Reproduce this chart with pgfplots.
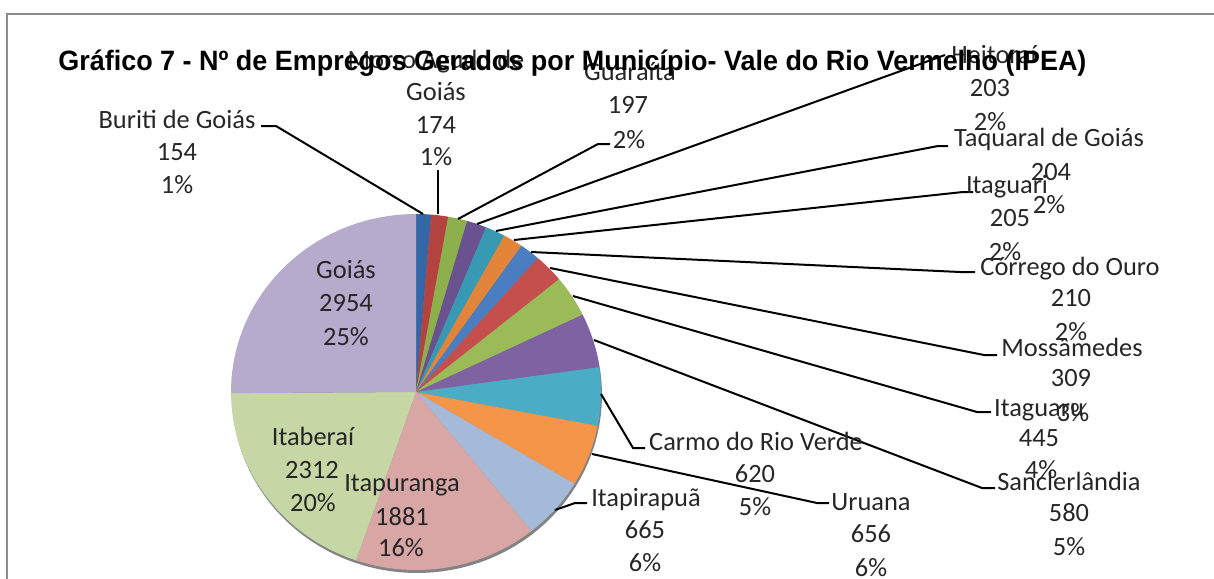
\documentclass[border=0pt]{standalone}
\usepackage{graphicx}
\usepackage{fontspec}
\setmainfont{Carlito}
\newfontfamily\titlefont{Liberation Sans}
\usepackage{pgfplots}
\pgfplotsset{compat=1.18}
\definecolor{c1}{HTML}{3566A6}
\definecolor{c2}{HTML}{B4423F}
\definecolor{c3}{HTML}{8DAF4C}
\definecolor{c4}{HTML}{6A5190}
\definecolor{c5}{HTML}{3899B3}
\definecolor{c6}{HTML}{E2843A}
\definecolor{c7}{HTML}{4A7EC0}
\definecolor{c8}{HTML}{C44F4C}
\definecolor{c9}{HTML}{9ABB58}
\definecolor{c10}{HTML}{7F62A1}
\definecolor{c11}{HTML}{4BACC6}
\definecolor{c12}{HTML}{F5954A}
\definecolor{c13}{HTML}{A5B9D8}
\definecolor{c14}{HTML}{D7A6A5}
\definecolor{c15}{HTML}{C6D6A4}
\definecolor{c16}{HTML}{B6AACD}
\definecolor{framegray}{HTML}{8C8C8C}
\newcommand{\labfont}{\fontsize{13.2}{16}\selectfont}
\newcommand{\lab}[3]{\node[anchor=base,inner sep=0pt,yshift=-4.3pt,font=\labfont,text=black!85] at (axis cs:#1,#2) {#3};}
% slice: start (cumulative count), end (cumulative count), colour; total = 11769
\newcommand{\slice}[3]{\addplot[fill=#3, draw=none, domain=#1:#2, samples=40] ({416+185*sin(360*x/11769)}, {392-178*cos(360*x/11769)}) -- (axis cs:416,392) -- cycle;}
\begin{document}
\begin{tikzpicture}
\begin{axis}[width=607pt, height=289pt, scale only axis,
  xmin=0, xmax=1214, ymin=0, ymax=578, y dir=reverse, hide axis, clip=true]
% frame
\addplot[draw=framegray, line width=1.2pt] coordinates {(7,620) (7,14) (1260,14)};
% shadow
\addplot[fill=black!65, draw=none, domain=0:360, samples=120, opacity=0.75] ({417+185*sin(x)}, {395-178*cos(x)}) -- cycle;
% slices (values: 154,174,197,203,204,205,210,309,445,580,620,656,665,1881,2312,2954)
\slice{0}{154}{c1}
\slice{154}{328}{c2}
\slice{328}{525}{c3}
\slice{525}{728}{c4}
\slice{728}{932}{c5}
\slice{932}{1137}{c6}
\slice{1137}{1347}{c7}
\slice{1347}{1656}{c8}
\slice{1656}{2101}{c9}
\slice{2101}{2681}{c10}
\slice{2681}{3301}{c11}
\slice{3301}{3957}{c12}
\slice{3957}{4622}{c13}
\slice{4622}{6503}{c14}
\slice{6503}{8815}{c15}
\slice{8815}{11769}{c16}
% leader lines
\addplot[black, line width=1pt] coordinates {(423,214) (276,126) (261,126)};
\addplot[black, line width=1pt] coordinates {(438,214) (438,170)};
\addplot[black, line width=1pt] coordinates {(458,219) (598,144) (610,144)};
\addplot[black, line width=1pt] coordinates {(477,224) (945,55)};
\addplot[black, line width=1pt] coordinates {(496,231) (938,146) (948,146)};
\addplot[black, line width=1pt] coordinates {(514,240) (963,192) (973,192)};
\addplot[black, line width=1pt] coordinates {(531,252) (960,272) (975,272)};
\addplot[black, line width=1pt] coordinates {(550,268) (984,355) (997,355)};
\addplot[black, line width=1pt] coordinates {(573,296) (977,412) (991,412)};
\addplot[black, line width=1pt] coordinates {(594,340) (982,488) (995,488)};
\addplot[black, line width=1pt] coordinates {(601,394) (633,448) (645,448)};
\addplot[black, line width=1pt] coordinates {(592,454) (817,503) (829,503)};
\addplot[black, line width=1pt] coordinates {(555,510) (575,503) (587,503)};
% labels
\lab{177}{120}{Buriti de Goiás}\lab{177}{152}{154}\lab{177}{185}{1\%}
\lab{436}{60}{Morro Agudo de}\lab{436}{92}{Goiás}\lab{436}{125}{174}\lab{436}{157}{1\%}
\lab{630}{72}{Guaraíta}\lab{628}{105}{197}\lab{629}{140}{2\%}
\lab{994}{55}{Heitoraí}\lab{990}{88}{203}\lab{990}{122}{2\%}
\lab{1049}{138}{Taquaral de Goiás}\lab{1051}{172}{204}\lab{1049}{205}{2\%}
\lab{1007}{185}{Itaguari}\lab{1010}{218}{205}\lab{1005}{252}{2\%}
\lab{1070}{267}{Córrego do Ouro}\lab{1071}{298}{210}\lab{1071}{332}{2\%}
\lab{1072}{348}{Mossâmedes}\lab{1071}{378}{309}\lab{1073}{413}{3\%}
\lab{1039}{408}{Itaguaru}\lab{1039}{438}{445}\lab{1041}{470}{4\%}
\lab{1069}{482}{Sanclerlândia}\lab{1069}{513}{580}\lab{1069}{547}{5\%}
\lab{756}{442}{Carmo do Rio Verde}\lab{755}{474}{620}\lab{755}{507}{5\%}
\lab{871}{502}{Uruana}\lab{871}{534}{656}\lab{871}{568}{6\%}
\lab{646}{498}{Itapirapuã}\lab{645}{530}{665}\lab{645}{563}{6\%}
\lab{346}{270}{Goiás}\lab{346}{303}{2954}\lab{346}{337}{25\%}
\lab{313}{437}{Itaberaí}\lab{312}{470}{2312}\lab{313}{503}{20\%}
\lab{402}{483}{Itapuranga}\lab{402}{517}{1881}\lab{401}{548}{16\%}
% title
\node[anchor=base west, inner sep=0pt] at (axis cs:58,70) {\resizebox{514pt}{\height}{\titlefont\bfseries\fontsize{14}{16}\selectfont Gráfico 7 - Nº de Empregos Gerados por Município- Vale do Rio Vermelho (IPEA)}};
\end{axis}
\pgfresetboundingbox
\useasboundingbox (current axis.south west) rectangle (current axis.north east);
\end{tikzpicture}
\end{document}
